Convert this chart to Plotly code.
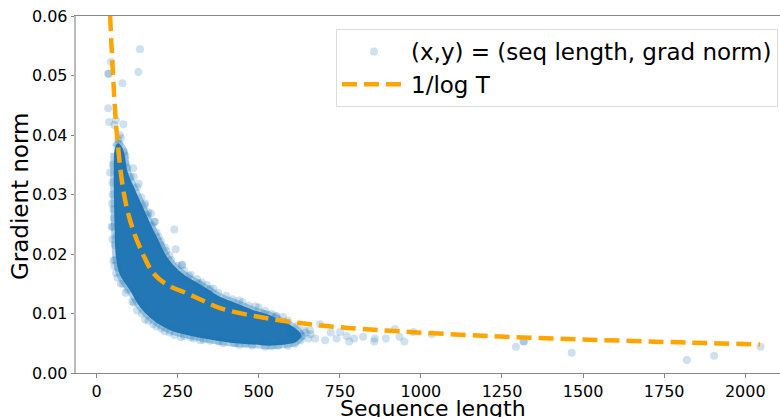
import plotly.graph_objects as go

# Dashed reference curve "1/log T"
curve_x = [42, 51, 63, 85, 110, 143, 175, 216, 278, 319, 381, 504, 627, 750, 904, 1213, 1521, 1829, 2045]
curve_y = [0.060, 0.050, 0.040, 0.030, 0.0245, 0.0200, 0.0168, 0.0149, 0.0134, 0.0124, 0.0109,
           0.0094, 0.0084, 0.0077, 0.0071, 0.0062, 0.0056, 0.0051, 0.0048]

# Envelope of the dense (fully overlapped) point cloud
core_upper_x = [58, 66, 80, 97, 119, 143, 165, 190, 221, 263, 300, 340, 381, 433, 482, 535, 566, 600, 622, 632]
core_upper_y = [0.0380, 0.0386, 0.0378, 0.0336, 0.0308, 0.0279, 0.0252, 0.0224, 0.0192, 0.0168, 0.0155,
                0.0142, 0.0128, 0.0117, 0.0106, 0.0097, 0.0089, 0.0080, 0.0071, 0.0062]
core_lower_x = [615, 596, 535, 482, 411, 341, 279, 227, 174, 134, 103, 72, 60, 56, 54, 53, 54]
core_lower_y = [0.0052, 0.0049, 0.0046, 0.0048, 0.0051, 0.0057, 0.0064, 0.0072, 0.0089, 0.0111, 0.0139,
                0.0165, 0.0195, 0.0240, 0.0290, 0.0340, 0.0370]

# Individually visible points (seq length, grad norm)
pts_x = [134, 45, 36, 38, 129, 80, 36, 39, 60, 83, 55, 72, 67, 75, 113, 42, 70, 64, 85, 90, 78, 88,
         47, 50, 52, 57, 57, 67, 62, 52, 50, 49, 53, 60, 75, 90, 110, 125, 150, 185, 210, 240, 260,
         300, 330, 376, 425, 460, 509, 540, 571, 612,
         168, 180, 178, 240, 191, 244, 211, 264, 263, 316, 350, 160, 150, 130, 115, 200, 230, 290,
         340, 400, 450, 500, 516, 553, 555, 590,
         600, 610, 625, 635, 645, 660, 630, 600, 620, 640,
         653, 658, 674, 689, 705, 722, 740, 751, 771, 779, 794, 822, 856, 858, 892, 920, 934, 949,
         977, 1034, 1293, 1316, 1318, 1465, 1820, 1904, 2047,
         95, 105, 125, 138, 148, 158, 172, 185, 198, 215, 225, 250, 270, 285, 310, 325, 360, 375,
         420, 440, 470, 490, 520, 540, 575,
         50, 48, 49, 55, 65, 82, 95, 115, 140, 160, 175, 200, 225, 270, 290, 320, 350, 390, 440,
         480, 520, 560, 590]
pts_y = [0.0544, 0.0523, 0.0503, 0.0503, 0.0506, 0.0487, 0.0445, 0.0422, 0.0425, 0.0418, 0.0417,
         0.0400, 0.0392, 0.0395, 0.0344, 0.0337, 0.0385, 0.0378, 0.0372, 0.0365, 0.0360, 0.0352,
         0.0246, 0.0246, 0.0189, 0.0215, 0.0190, 0.0177, 0.0230, 0.0275, 0.0300, 0.0320, 0.0260,
         0.0168, 0.0150, 0.0135, 0.0120, 0.0105, 0.0090, 0.0078, 0.0070, 0.0064, 0.0060, 0.0058,
         0.0056, 0.0053, 0.0050, 0.0049, 0.0053, 0.0045, 0.0053, 0.0049,
         0.0268, 0.0254, 0.0254, 0.0241, 0.0229, 0.0208, 0.0211, 0.0181, 0.0182, 0.0151, 0.0141,
         0.0270, 0.0285, 0.0318, 0.0330, 0.0215, 0.0190, 0.0165, 0.0148, 0.0130, 0.0119, 0.0110,
         0.0099, 0.0096, 0.0095, 0.0088,
         0.0065, 0.0060, 0.0066, 0.0062, 0.0068, 0.0065, 0.0055, 0.0072, 0.0080, 0.0072,
         0.0058, 0.0072, 0.0058, 0.0082, 0.0055, 0.0068, 0.0058, 0.0069, 0.0062, 0.0053, 0.0058,
         0.0061, 0.0053, 0.0058, 0.0058, 0.0074, 0.0061, 0.0053, 0.0069, 0.0065, 0.0044, 0.0053,
         0.0053, 0.0034, 0.0022, 0.0029, 0.0044,
         0.0345, 0.0330, 0.0312, 0.0295, 0.0282, 0.0265, 0.0248, 0.0236, 0.0222, 0.0205, 0.0198,
         0.0180, 0.0172, 0.0163, 0.0158, 0.0152, 0.0142, 0.0135, 0.0124, 0.0122, 0.0113, 0.0112,
         0.0104, 0.0100, 0.0094,
         0.0350, 0.0285, 0.0225, 0.0180, 0.0160, 0.0150, 0.0140, 0.0118, 0.0100, 0.0088, 0.0082,
         0.0075, 0.0068, 0.0062, 0.0060, 0.0055, 0.0054, 0.0050, 0.0047, 0.0046, 0.0044, 0.0046,
         0.0046]

x_ticks = [0, 250, 500, 750, 1000, 1250, 1500, 1750, 2000]
y_ticks = [0.00, 0.01, 0.02, 0.03, 0.04, 0.05, 0.06]

BLUE = "#1f77b4"
FONT = "DejaVu Sans"

fig = go.Figure()

# dense cloud region
fig.add_trace(go.Scatter(
    x=core_upper_x + core_lower_x, y=core_upper_y + core_lower_y,
    mode="lines", fill="toself", fillcolor="#2277b4",
    line=dict(color="rgba(31,119,180,0.35)", width=7, shape="spline"),
    showlegend=False, hoverinfo="skip"))

fig.add_trace(go.Scatter(
    x=pts_x, y=pts_y, mode="markers",
    name="(x,y) = (seq length, grad norm)",
    marker=dict(color=BLUE, size=8, opacity=0.22, line=dict(width=0))))

fig.add_trace(go.Scatter(
    x=curve_x, y=curve_y, mode="lines", name="1/log T",
    line=dict(color="#FFA500", width=4.5, dash="15px,7px", shape="spline")))

W, H = 780, 417
L, R, T, B = 76, 0, 16, 44
pw, ph = W - L - R, H - T - B

def px_x(p):
    return (p - L) / pw

def px_y(p):
    return (H - B - p) / ph

fig.update_layout(
    width=W, height=H,
    margin=dict(l=L, r=R, t=T, b=B, autoexpand=False),
    paper_bgcolor="white", plot_bgcolor="white",
    font=dict(family=FONT, size=16, color="black"),
    showlegend=True,
    legend=dict(x=px_x(336), y=px_y(29), xanchor="left", yanchor="top",
                bgcolor="white", bordercolor="#dddddd", borderwidth=1,
                font=dict(size=23, family=FONT), itemwidth=64,
                tracegroupgap=0),
    xaxis=dict(range=[-63.2, 2107], tickvals=x_ticks, ticktext=[str(v) for v in x_ticks],
               showgrid=False, zeroline=False, showline=True, linecolor="#888888",
               linewidth=1.2, mirror=True, ticks="outside", ticklen=3.5, tickcolor="#888888",
               tickfont=dict(size=16, family=FONT), automargin=False),
    yaxis=dict(range=[0, 0.06], tickvals=y_ticks, ticktext=["%.2f" % v for v in y_ticks],
               showgrid=False, zeroline=False, showline=True, linecolor="#bbbbbb",
               linewidth=1.5, ticks="outside", ticklen=3.5, tickcolor="#888888",
               tickfont=dict(size=16, family=FONT), automargin=False),
    annotations=[
        dict(text="Sequence length", xref="paper", yref="paper", x=px_x(433), y=px_y(408),
             xanchor="center", yanchor="middle", showarrow=False,
             font=dict(size=22, family=FONT, color="black")),
        dict(text="Gradient norm", xref="paper", yref="paper", x=px_x(20), y=px_y(196),
             xanchor="center", yanchor="middle", textangle=-90, showarrow=False,
             font=dict(size=23, family=FONT, color="black")),
    ],
)

fig.write_html("out.html", config={"displayModeBar": False},
               post_script="document.body.style.margin='0';document.body.style.overflow='hidden';")
